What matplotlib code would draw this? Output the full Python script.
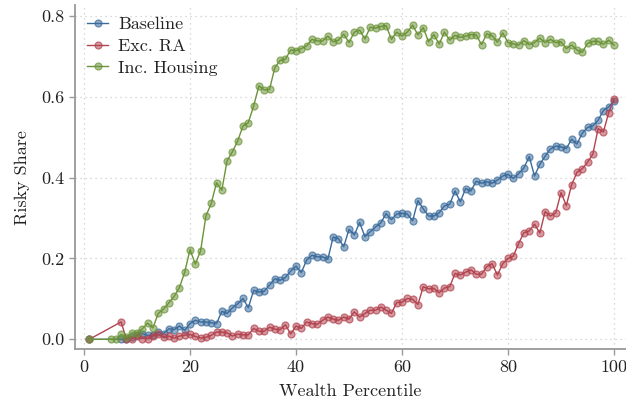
import matplotlib
matplotlib.use("Agg")
import matplotlib.pyplot as plt
import numpy as np

plt.rcParams['font.family'] = ['cmr10', 'DejaVu Serif']
plt.rcParams['axes.formatter.use_mathtext'] = True
plt.rcParams['mathtext.fontset'] = 'cm'

# Data
baseline_x = [1] + list(range(7, 101))
baseline_y = [0.0,
    0.000, 0.002, 0.006, 0.010, 0.014, 0.010, 0.010, 0.017, 0.014, 0.026,
    0.024, 0.033, 0.022, 0.039, 0.047, 0.043, 0.043, 0.041, 0.039, 0.069,
    0.064, 0.078, 0.088, 0.101, 0.078, 0.121, 0.117, 0.119, 0.134, 0.150,
    0.146, 0.153, 0.169, 0.181, 0.165, 0.196, 0.208, 0.204, 0.204, 0.198,
    0.253, 0.249, 0.229, 0.272, 0.258, 0.289, 0.254, 0.266, 0.278, 0.288,
    0.311, 0.296, 0.310, 0.312, 0.310, 0.293, 0.343, 0.323, 0.305, 0.305,
    0.313, 0.330, 0.334, 0.367, 0.340, 0.373, 0.367, 0.391, 0.386, 0.390,
    0.386, 0.394, 0.404, 0.408, 0.398, 0.410, 0.424, 0.452, 0.404, 0.433,
    0.453, 0.471, 0.478, 0.476, 0.472, 0.495, 0.483, 0.510, 0.524, 0.528,
    0.542, 0.566, 0.575, 0.589]

excra_x = [1] + list(range(7, 101))
excra_y = [0.0,
    0.043, 0.000, 0.002, 0.008, 0.002, 0.002, 0.008, 0.012, 0.006, 0.008,
    0.003, 0.008, 0.010, 0.012, 0.007, 0.003, 0.005, 0.010, 0.018, 0.018,
    0.016, 0.008, 0.013, 0.011, 0.011, 0.027, 0.020, 0.020, 0.030, 0.025,
    0.024, 0.036, 0.013, 0.033, 0.027, 0.043, 0.039, 0.037, 0.047, 0.055,
    0.050, 0.047, 0.055, 0.050, 0.068, 0.055, 0.064, 0.072, 0.072, 0.080,
    0.072, 0.064, 0.091, 0.092, 0.101, 0.099, 0.086, 0.130, 0.125, 0.126,
    0.115, 0.127, 0.130, 0.163, 0.159, 0.166, 0.172, 0.161, 0.161, 0.180,
    0.187, 0.159, 0.187, 0.200, 0.206, 0.237, 0.264, 0.268, 0.285, 0.263,
    0.316, 0.305, 0.313, 0.363, 0.331, 0.382, 0.413, 0.422, 0.438, 0.458,
    0.521, 0.513, 0.561, 0.595]

housing_x = [1] + list(range(5, 101))
housing_y = [0.0,
    0.000, 0.000, 0.012, 0.005, 0.016, 0.016, 0.026, 0.040, 0.028, 0.064,
    0.075, 0.090, 0.106, 0.128, 0.166, 0.222, 0.186, 0.219, 0.305, 0.336,
    0.387, 0.369, 0.442, 0.464, 0.491, 0.528, 0.536, 0.577, 0.627, 0.617,
    0.618, 0.672, 0.690, 0.693, 0.716, 0.714, 0.719, 0.726, 0.742, 0.738,
    0.738, 0.750, 0.736, 0.740, 0.755, 0.734, 0.760, 0.765, 0.743, 0.772,
    0.770, 0.774, 0.776, 0.742, 0.760, 0.750, 0.760, 0.777, 0.753, 0.771,
    0.736, 0.754, 0.730, 0.760, 0.740, 0.752, 0.747, 0.750, 0.754, 0.753,
    0.729, 0.756, 0.751, 0.735, 0.758, 0.734, 0.731, 0.728, 0.739, 0.729,
    0.734, 0.745, 0.734, 0.742, 0.734, 0.736, 0.719, 0.728, 0.716, 0.710,
    0.732, 0.737, 0.737, 0.730, 0.740, 0.727]

labels = ["Baseline", "Exc. RA", "Inc. Housing"]
colors = ["#3b6b9b", "#b2434f", "#6b9338"]
xticks = [0, 20, 40, 60, 80, 100]
yticks = [0.0, 0.2, 0.4, 0.6, 0.8]

fig = plt.figure(figsize=(6.26, 4.01), dpi=100)
W, H = 626, 401
ax = fig.add_axes([75 / W, (H - 349.3) / H, (626 - 75) / W, (349.3 - 5) / H])

for xs, ys, lab, c in zip([baseline_x, excra_x, housing_x],
                          [baseline_y, excra_y, housing_y], labels, colors):
    ax.plot(xs, ys, '-', color=c, lw=1.0, marker='o', markersize=5.0,
            markerfacecolor=matplotlib.colors.to_rgba(c, 0.55),
            markeredgecolor=matplotlib.colors.to_rgba(c, 0.7),
            markeredgewidth=0.9, label=lab)

ax.set_xlim(-1.7, 102.26)
ax.set_ylim(-0.0247, 0.827)
ax.set_xticks(xticks)
ax.set_yticks(yticks)
ax.set_yticklabels([f"{v:.1f}" for v in yticks])
ax.set_xticklabels([str(v) for v in xticks])

ax.grid(True, color='#cccccc', linestyle=(0, (1, 3)), lw=0.9)
for s in ['top', 'right']:
    ax.spines[s].set_visible(False)
for s in ['left', 'bottom']:
    ax.spines[s].set_color('#999999')
    ax.spines[s].set_linewidth(1.3)
ax.tick_params(direction='out', length=4.5, width=1.0, color='#999999',
               labelsize=13, labelcolor='#222222', pad=3)

ax.set_xlabel("Wealth Percentile", fontsize=13, color='#222222', labelpad=6)
ax.set_ylabel("Risky Share", fontsize=13, color='#222222', labelpad=8)

leg = ax.legend(loc='upper left', frameon=False, fontsize=13,
                handlelength=1.2, handletextpad=0.55, labelspacing=0.33,
                borderpad=0.4, borderaxespad=0.25,
                bbox_to_anchor=(0.0, 1.0))
for t in leg.get_texts():
    t.set_color('#222222')

fig.savefig("out.png", dpi=100)
